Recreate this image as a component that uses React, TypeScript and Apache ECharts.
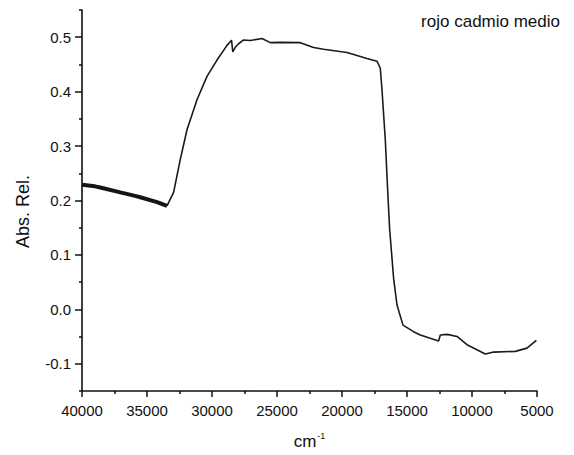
import React, { useEffect, useRef } from "react";
import * as echarts from "echarts";

// Wavenumber (cm-1) and relative absorbance
const noisyWavenumbers = [40000, 39000, 38592, 37054, 36000, 35515, 34231, 33462];
const noisyAbsorbance = [0.229, 0.226, 0.224, 0.215, 0.209, 0.206, 0.197, 0.19];

const mainWavenumbers = [
  33462, 32954, 32438, 31923, 31154, 30385, 29615, 28846, 28500, 28400, 28200, 27954, 27569,
  27054, 26154, 25515, 24746, 23208, 22185, 21415, 19615, 18077, 17308, 17054, 16923, 16670,
  16492, 16338, 16030, 15770, 15308, 14493, 13977, 12570, 12439, 11900, 11154, 10385, 8977,
  8338, 6669, 5769, 5050,
];
const mainAbsorbance = [
  0.19, 0.215, 0.2755, 0.33, 0.385, 0.428, 0.458, 0.485, 0.4945, 0.473, 0.482, 0.488, 0.495,
  0.494, 0.4976, 0.49, 0.4905, 0.49, 0.481, 0.478, 0.472, 0.461, 0.456, 0.443, 0.403, 0.312,
  0.221, 0.148, 0.057, 0.008, -0.029, -0.041, -0.047, -0.058, -0.047, -0.046, -0.0498, -0.065,
  -0.082, -0.0785, -0.0772, -0.0712, -0.057,
];

const xMajorTicks = [5000, 10000, 15000, 20000, 25000, 30000, 35000, 40000];
const xMinorTicks = [7500, 12500, 17500, 22500, 27500, 32500, 37500];
const yMajorTicks = [-0.1, 0, 0.1, 0.2, 0.3, 0.4, 0.5];
const yMinorTicks = [-0.15, -0.05, 0.05, 0.15, 0.25, 0.35, 0.45, 0.55];

const titleText = "rojo cadmio medio";
const yName = "Abs. Rel.";

const FONT = "'Liberation Sans', Arial, sans-serif";

export default function App() {
  const ref = useRef<HTMLDivElement>(null);
  useEffect(() => {
    if (!ref.current) return;
    const chart = echarts.init(ref.current, null, { renderer: "svg" });
    const zip = (xs: number[], ys: number[]) => xs.map((x, i) => [x, ys[i]]);
    const axisLine = { show: true, onZero: false, lineStyle: { color: "#111", width: 1.6 } };
    chart.setOption({
      animation: false,
      backgroundColor: "#fff",
      textStyle: { fontFamily: FONT },
      title: {
        text: titleText,
        right: 9,
        top: 8,
        textStyle: { fontSize: 17, fontWeight: "normal", color: "#111", fontFamily: FONT },
      },
      grid: { left: 82, right: 37, top: 10, bottom: 62, containLabel: false },
      xAxis: [
        {
          type: "value",
          inverse: true,
          min: 5000,
          max: 40000,
          axisLine,
          axisTick: { show: true, customValues: xMajorTicks, length: 6, lineStyle: { color: "#111", width: 1.5 } },
          axisLabel: {
            customValues: xMajorTicks,
            formatter: (v: number) => String(Math.round(v)),
            color: "#111",
            fontSize: 15,
            margin: 12,
            fontFamily: FONT,
          },
          splitLine: { show: false },
          name: "{a|cm}{b|-1}",
          nameLocation: "middle",
          nameGap: 40,
          nameTextStyle: {
            rich: {
              a: { fontSize: 17, color: "#111", fontFamily: FONT },
              b: { fontSize: 9, color: "#111", fontFamily: FONT, verticalAlign: "top", padding: [0, 0, 12, 1] },
            },
          },
        },
        {
          type: "value",
          inverse: true,
          min: 5000,
          max: 40000,
          position: "bottom",
          axisLine: { show: false, onZero: false },
          axisTick: { show: true, customValues: xMinorTicks, length: 3, lineStyle: { color: "#111", width: 1.5 } },
          axisLabel: { show: false },
          splitLine: { show: false },
        },
      ],
      yAxis: [
        {
          type: "value",
          min: -0.15,
          max: 0.55,
          axisLine,
          axisTick: { show: true, customValues: yMajorTicks, length: 7, lineStyle: { color: "#111", width: 1.5 } },
          axisLabel: {
            customValues: yMajorTicks,
            formatter: (v: number) => (Math.abs(v) < 1e-9 ? "0.0" : v.toFixed(1)),
            color: "#111",
            fontSize: 15,
            margin: 11,
            fontFamily: FONT,
          },
          splitLine: { show: false },
          name: yName,
          nameLocation: "middle",
          nameGap: 50,
          nameRotate: 90,
          nameTextStyle: { fontSize: 18, color: "#111", fontFamily: FONT, padding: [0, 22, 0, 0] },
        },
        {
          type: "value",
          min: -0.15,
          max: 0.55,
          position: "left",
          axisLine: { show: false, onZero: false },
          axisTick: { show: true, customValues: yMinorTicks, length: 3, lineStyle: { color: "#111", width: 1.5 } },
          axisLabel: { show: false },
          splitLine: { show: false },
        },
      ],
      series: [
        {
          type: "line",
          data: zip(noisyWavenumbers, noisyAbsorbance),
          showSymbol: false,
          symbol: "none",
          lineStyle: { color: "#151515", width: 4 },
          z: 3,
        },
        {
          type: "line",
          data: zip(mainWavenumbers, mainAbsorbance),
          showSymbol: false,
          symbol: "none",
          lineStyle: { color: "#1a1a1a", width: 1.6 },
          z: 3,
        },
      ],
    });
    return () => chart.dispose();
  }, []);
  return (
    <div
      ref={ref}
      style={{ position: "fixed", left: 0, top: 0, width: 574, height: 455, background: "#fff" }}
    />
  );
}
